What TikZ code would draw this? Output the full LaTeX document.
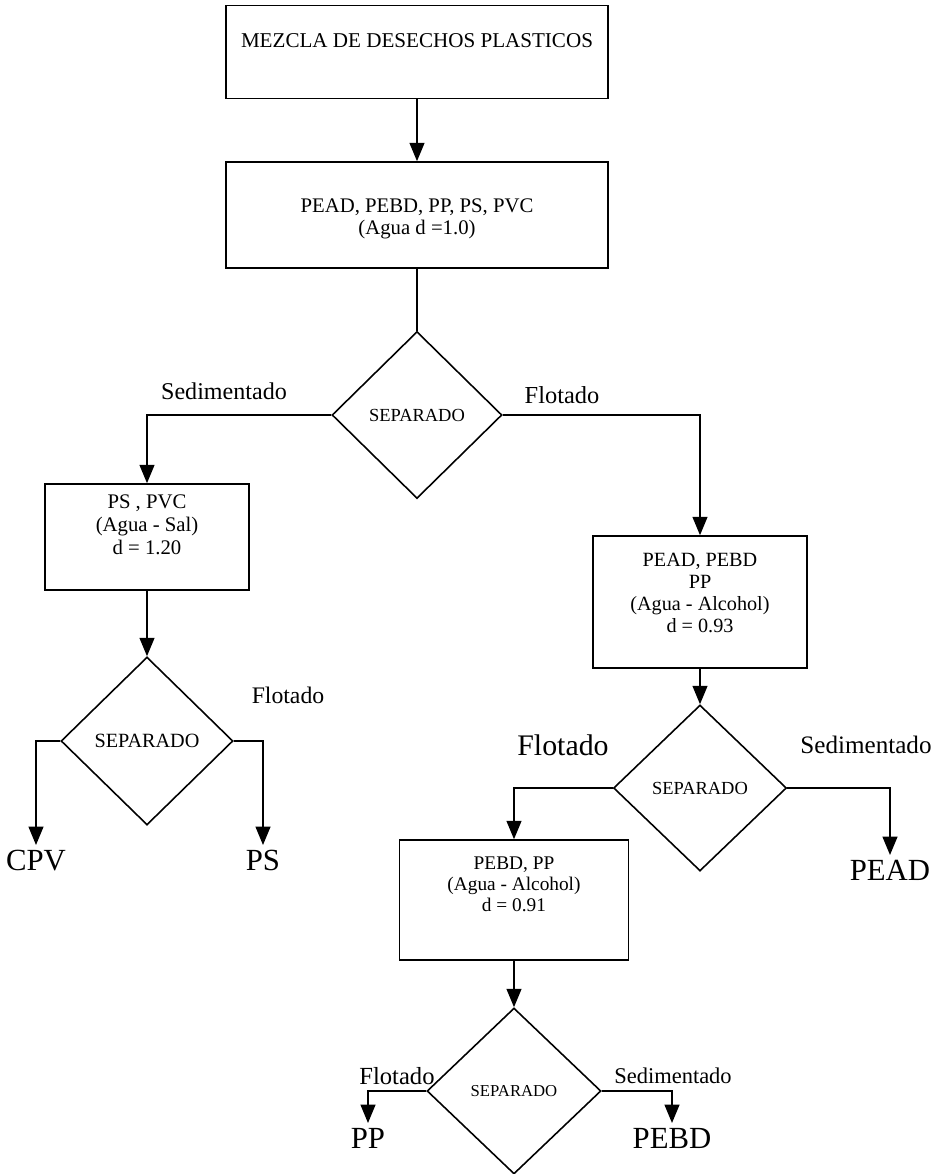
\documentclass[tikz,border=0pt]{standalone}
\usepackage{fontspec}
\setmainfont{Liberation Serif}
\usetikzlibrary{shapes.geometric,arrows.meta}

% stacked, centred lines, lifted by #1 without changing the box size
\newcommand{\liftlines}[2]{\raisebox{#1}[\height][\depth]{\begin{tabular}{@{}c@{}}#2\end{tabular}}}
\newcommand{\fsz}[1]{\fontsize{#1}{1.1\dimexpr#1pt\relax}\selectfont}

\begin{document}
\begin{tikzpicture}[x=0.02cm,y=-0.02cm,
  box/.style={draw,line width=0.9pt,inner sep=0pt},
  decision/.style={draw,diamond,line width=0.9pt,inner sep=0pt},
  link/.style={line width=0.9pt},
  flow/.style={link,-{Triangle[length=10.5pt,width=8.5pt]}},
  tag/.style={inner sep=0pt},
  result/.style={inner xsep=0pt,inner ysep=3pt,anchor=north,font=\fsz{17.5}}]
\useasboundingbox (0,0) rectangle (948,1174);

% process boxes
\node[box,minimum width=7.64cm,minimum height=1.86cm,font=\fsz{12}] (mix) at (417,52)
  {\liftlines{0.19cm}{MEZCLA DE DESECHOS PLASTICOS}};
\node[box,minimum width=7.64cm,minimum height=2.12cm,font=\fsz{11.8}] (all) at (417,215)
  {\liftlines{-0.08cm}{PEAD, PEBD, PP, PS, PVC\\(Agua d =1.0)}};
\node[box,minimum width=4.08cm,minimum height=2.12cm,font=\fsz{11.8}] (heavy) at (147,537)
  {\liftlines{0.2cm}{PS , PVC\\(Agua - Sal)\\d = 1.20}};
\node[box,minimum width=4.28cm,minimum height=2.64cm,font=\fsz{11.5}] (light) at (700,602)
  {\liftlines{0.14cm}{PEAD, PEBD\\PP\\(Agua - Alcohol)\\d = 0.93}};
\node[box,minimum width=4.58cm,minimum height=2.4cm,font=\fsz{11}] (lighter) at (514,900)
  {\liftlines{0.28cm}{PEBD, PP\\(Agua - Alcohol)\\d = 0.91}};

% separation steps
\node[decision,minimum width=3.4cm,minimum height=3.34cm,font=\fsz{10.5}] (d1) at (417,415) {SEPARADO};
\node[decision,minimum width=3.44cm,minimum height=3.36cm,font=\fsz{11.5}] (d2) at (147,741) {SEPARADO};
\node[decision,minimum width=3.46cm,minimum height=3.32cm,font=\fsz{10.5}] (d3) at (700,788) {SEPARADO};
\node[decision,minimum width=3.48cm,minimum height=3.32cm,font=\fsz{9.5}] (d4) at (514,1091) {SEPARADO};

% separated fractions
\node[result] (cpv) at (36,845) {CPV};
\node[result] (ps) at (263,845) {PS};
\node[result] (pead) at (890,855) {PEAD};
\node[result] (pp) at (368,1123) {PP};
\node[result] (pebd) at (672,1123) {PEBD};

% connectors
\draw[flow] (mix) -- (all);
\draw[link] (all) -- (d1);
\draw[flow] (d1.west) -| (heavy.north);
\draw[flow] (d1.east) -| (light.north);
\draw[flow] (heavy) -- (d2);
\draw[flow] (d2.west) -| (cpv.north);
\draw[flow] (d2.east) -| (ps.north);
\draw[flow] (light) -- (d3);
\draw[flow] (d3.east) -| (pead.north);
\draw[flow] (d3.west) -| (lighter.north);
\draw[flow] (lighter) -- (d4);
\draw[flow] (d4.west) -| (pp.north);
\draw[flow] (d4.east) -| (pebd.north);

% branch labels
\node[tag,font=\fsz{13.7}] (l1s) at (224,391) {Sedimentado};
\node[tag,font=\fsz{13.9}] (l1f) at (562,395) {Flotado};
\node[tag,font=\fsz{13.5}] (l2f) at (288,695) {Flotado};
\node[tag,font=\fsz{17}] (l3f) at (563,745) {Flotado};
\node[tag,font=\fsz{14.3}] (l3s) at (866,745) {Sedimentado};
\node[tag,font=\fsz{14}] (l4f) at (397,1076) {Flotado};
\node[tag,font=\fsz{12.8}] (l4s) at (673,1076) {Sedimentado};
\end{tikzpicture}
\end{document}
